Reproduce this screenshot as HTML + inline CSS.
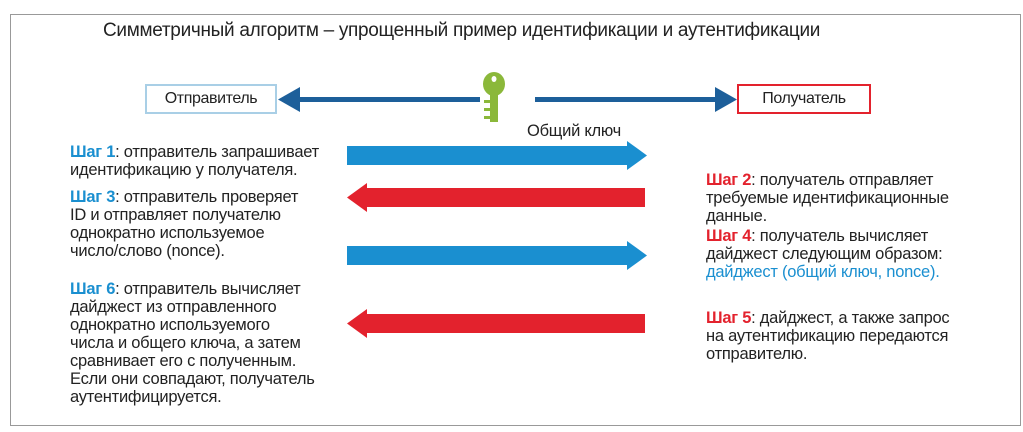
<!DOCTYPE html>
<html><head><meta charset="utf-8"><style>
body{margin:0;width:1023px;height:432px;background:#fff;position:relative;overflow:hidden;font-family:"Liberation Sans",sans-serif;color:#222}
.frame{position:absolute;left:10px;top:14px;width:1009px;height:410px;border:1px solid #999}
.t{position:absolute;white-space:nowrap;font-size:16.5px;line-height:18px;letter-spacing:-0.25px}
.b{color:#1a8fd0;font-weight:bold}
.r{color:#e3222d;font-weight:bold}
.box{position:absolute;height:26px;line-height:26px;text-align:center;font-size:16px;letter-spacing:-0.4px;background:#fff}
</style></head><body>
<div class="frame"></div>
<div class="t" style="left:103px;top:22px;font-size:19px;letter-spacing:-0.3px">Симметричный алгоритм – упрощенный пример идентификации и аутентификации</div>
<div class="box" style="left:145px;top:84px;width:128px;border:2px solid #a9cfe6">Отправитель</div>
<div class="box" style="left:737px;top:84px;width:130px;border:2px solid #e3222d">Получатель</div>
<svg width="1023" height="432" style="position:absolute;left:0;top:0">
<rect x="298" y="97" width="182" height="5" fill="#1d5f9a"/>
<polygon points="278,99.5 300,87 300,112" fill="#1d5f9a"/>
<rect x="535" y="97" width="183" height="5" fill="#1d5f9a"/>
<polygon points="737,99.5 715,87 715,112" fill="#1d5f9a"/>
<g fill="#8bb83a">
<ellipse cx="494" cy="84" rx="11" ry="12"/>
<rect x="490" y="92" width="8" height="30"/>
<rect x="484" y="100" width="8" height="3"/><rect x="484" y="108" width="8" height="3"/><rect x="484" y="116" width="8" height="3"/>
</g>
<ellipse cx="494" cy="79" rx="2.5" ry="3" fill="#fff"/>
<g fill="#1a8fd0">
<rect x="347" y="146" width="282" height="19"/><polygon points="647,155.5 627,141 627,170"/>
<rect x="347" y="246" width="282" height="19"/><polygon points="647,255.5 627,241 627,270"/>
</g>
<g fill="#e3222d">
<rect x="365" y="188" width="280" height="19"/><polygon points="347,197.5 367,183 367,212"/>
<rect x="365" y="314" width="280" height="19"/><polygon points="347,323.5 367,309 367,338"/>
</g>
</svg>
<div class="t" style="left:527px;top:122px;">Общий ключ</div>
<div class="t" style="left:70px;top:143px;"><span class="b">Шаг 1</span>: отправитель запрашивает<br>идентификацию у получателя.</div>
<div class="t" style="left:70px;top:188px;"><span class="b">Шаг 3</span>: отправитель проверяет<br>ID и отправляет получателю<br>однократно используемое<br>число/слово (nonce).</div>
<div class="t" style="left:70px;top:280px;"><span class="b">Шаг 6</span>: отправитель вычисляет<br>дайджест из отправленного<br>однократно используемого<br>числа и общего ключа, а затем<br>сравнивает его с полученным.<br>Если они совпадают, получатель<br>аутентифицируется.</div>
<div class="t" style="left:706px;top:171px;"><span class="r">Шаг 2</span>: получатель отправляет<br>требуемые идентификационные<br>данные.</div>
<div class="t" style="left:706px;top:227px;"><span class="r">Шаг 4</span>: получатель вычисляет<br>дайджест следующим образом:<br><span style="color:#1a8fd0">дайджест (общий ключ, nonce).</span></div>
<div class="t" style="left:706px;top:309px;"><span class="r">Шаг 5</span>: дайджест, а также запрос<br>на аутентификацию передаются<br>отправителю.</div>
</body></html>
